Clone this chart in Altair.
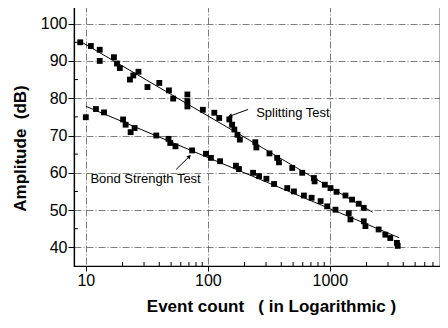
import altair as alt
import pandas as pd

# Splitting Test (upper series)
split_x = [9, 11, 13, 13, 17, 18, 19, 23, 24.5, 27, 32, 40, 48, 52, 68, 68, 68, 91, 113, 124,
           150, 158, 165, 175, 183, 245, 250, 320, 370, 383, 492, 594, 740, 750, 910, 1013,
           1135, 1344, 1521, 1725, 1897]
split_y = [95, 94, 93, 90, 91, 89.3, 88.1, 85, 86.1, 87.1, 83, 84.1, 82.1, 79.9, 81, 79.2, 77.8,
           76.9, 76.1, 74.7, 74.3, 72.9, 71.6, 70.2, 68.9, 68.2, 66.8, 65.2, 64.0, 62.8, 61.3,
           60.0, 58.6, 57.7, 56.8, 55.9, 54.9, 53.9, 52.8, 51.7, 50.6]

# Bond Strength Test (lower series)
bond_x = [10, 12.1, 14.1, 20.2, 21.2, 23.3, 25.1, 37.8, 47.6, 49.2, 54.3, 74.3, 96.6, 106, 126,
          170, 180, 235, 263, 302, 349, 448, 508, 613, 709, 840, 951, 1113, 1429, 1476, 1897,
          1958, 2512, 2850, 3130, 3548, 3600]
bond_y = [74.9, 77.1, 76.2, 74.3, 72.9, 70.9, 72.0, 70.0, 69.1, 68.0, 67.1, 66.0, 65.1, 64.0,
          63.1, 61.9, 61.0, 60.0, 59.1, 58.4, 57.0, 55.9, 55.0, 53.9, 53.3, 52.4, 51.0, 50.1,
          49.2, 47.5, 47.0, 45.7, 44.8, 43.4, 42.5, 41.2, 40.4]

x_major = [10, 100, 1000]
x_minor = [20, 30, 40, 50, 60, 70, 80, 90, 200, 300, 400, 500, 600, 700, 800, 900,
           2000, 3000, 4000, 5000, 6000, 7000]
y_major = [40, 50, 60, 70, 80, 90, 100]
y_minor = [45, 55, 65, 75, 85, 95]

ann_text = ["Splitting Test", "Bond Strength Test"]
ann_x = [249, 10.9]
ann_y = [76.1, 58.2]
arrow_id = ["s", "s", "b", "b"]
arrow_x = [152, 214, 55, 70.6]
arrow_y = [75.2, 77.0, 60.9, 64.4]
head_x = [152, 70.6]
head_y = [75.2, 64.4]
head_angle = [250, 45]

FONT = "Liberation Sans"
NB = "\u00a0"

split_df = pd.DataFrame({"x": split_x, "y": split_y})
bond_df = pd.DataFrame({"x": bond_x, "y": bond_y})
all_df = pd.concat([split_df, bond_df])

xs = alt.Scale(type="log", domain=[8, 8000], nice=False)
ys = alt.Scale(domain=[35, 105], nice=False, zero=False)

x_title = "Event count" + NB * 3 + "(" + NB + "in Logarithmic" + NB + ")"
y_title = "Amplitude" + NB * 2 + "(dB)"

x_axis = alt.Axis(values=x_major, format="d", title=x_title,
                  grid=True, titleX=197, titleY=40, titleBaseline="middle", titleAlign="center",
                  labelPadding=1, tickSize=5, labelFlush=False)
y_axis = alt.Axis(values=y_major, title=y_title, grid=True, titleX=-54, titleY=143,
                  titleBaseline="middle", titleAlign="center", labelPadding=1, tickSize=6)

X = alt.X("x:Q", scale=xs, axis=x_axis)
Y = alt.Y("y:Q", scale=ys, axis=y_axis)

points = alt.Chart(all_df).mark_point(shape="square", filled=True, color="black",
                                      size=34, opacity=1).encode(x=X, y=Y)

fit_split = alt.Chart(split_df).transform_regression(
    "x", "y", method="log", extent=[9, 2240]
).mark_line(color="black", strokeWidth=1).encode(x=X, y=Y)

fit_bond = alt.Chart(bond_df).transform_regression(
    "x", "y", method="log", extent=[10, 3700]
).mark_line(color="black", strokeWidth=1).encode(x=X, y=Y)

xminor = alt.Chart(pd.DataFrame({"x": x_minor})).mark_rule(color="black", strokeWidth=1).encode(
    x=X, y=alt.value(261), y2=alt.value(257))

yminor = alt.Chart(pd.DataFrame({"y": y_minor})).mark_rule(color="black", strokeWidth=1).encode(
    y=Y, x=alt.value(0), x2=alt.value(4))

labels = alt.Chart(pd.DataFrame({"x": ann_x, "y": ann_y, "t": ann_text})).mark_text(
    align="left", baseline="middle", font=FONT, fontSize=13, color="black").encode(
    x=X, y=Y, text="t:N")

arrows = alt.Chart(pd.DataFrame({"x": arrow_x, "y": arrow_y, "id": arrow_id})).mark_line(
    color="black", strokeWidth=1).encode(x=X, y=Y, detail="id:N")

heads = alt.Chart(pd.DataFrame({"x": head_x, "y": head_y, "a": head_angle})).mark_point(
    shape="triangle-up", filled=True, color="black", size=22, opacity=1).encode(
    x=X, y=Y, angle=alt.Angle("a:Q", scale=None))

chart = alt.layer(points, fit_split, fit_bond, xminor, yminor, labels, arrows, heads).properties(
    width=366, height=261, autosize="none",
    padding={"left": 66, "top": -3, "right": 0, "bottom": 52},
).configure_view(stroke="black", strokeWidth=1.2).configure_axis(
    domainColor="black", domainWidth=1.2, tickColor="black", tickWidth=1,
    gridColor="#444444", gridWidth=0.7, gridDash=[7, 2, 1, 2],
    labelFont=FONT, labelFontSize=16, labelColor="black",
    titleFont=FONT, titleFontSize=17, titleFontWeight="bold", titleColor="black",
)

chart.save("out.html", embed_options={"renderer": "svg", "actions": False})
